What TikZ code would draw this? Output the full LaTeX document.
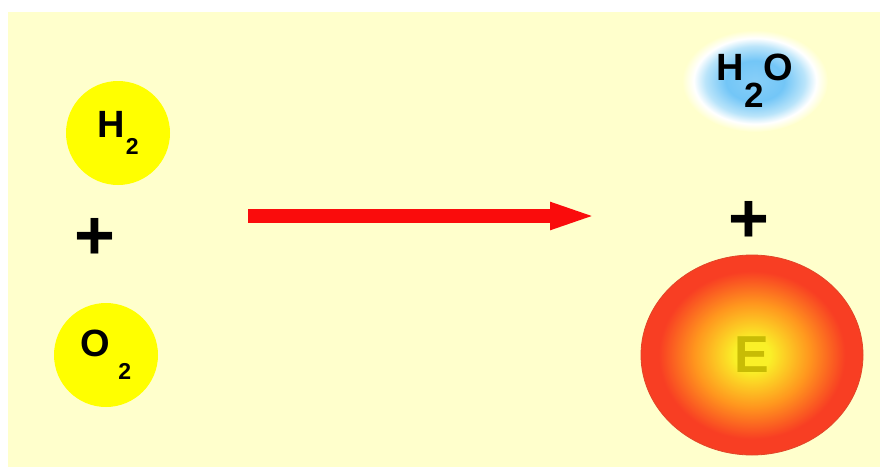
\documentclass[tikz,border=0pt]{standalone}
\usepackage{fontspec}
\setmainfont{Liberation Sans}
\usetikzlibrary{arrows.meta,shapes.geometric}

\definecolor{paper}{RGB}{255,255,204}
\definecolor{atomyellow}{RGB}{255,255,0}
\definecolor{arrowred}{RGB}{250,12,12}
\definecolor{waterblue}{RGB}{115,198,247}
\definecolor{waterpale}{RGB}{185,228,250}
\definecolor{fireyellow}{RGB}{250,240,40}
\definecolor{fireorange}{RGB}{255,150,30}
\definecolor{firered}{RGB}{248,62,35}
\definecolor{firerim}{RGB}{225,70,40}
\definecolor{energyolive}{RGB}{200,188,5}

\pgfdeclareradialshading{waterglow}{\pgfpointorigin}{color(0bp)=(waterblue!85!white); color(10bp)=(waterblue); color(17bp)=(waterpale); color(21bp)=(white); color(25bp)=(paper); color(50bp)=(paper)}
\pgfdeclareradialshading{fireglow}{\pgfpointorigin}{color(0bp)=(fireyellow); color(4bp)=(fireyellow); color(13bp)=(fireorange); color(21bp)=(firered); color(25bp)=(firered); color(50bp)=(firered)}

% lowered index figure: drop, size, text
\newcommand{\chemlow}[3]{\raisebox{-#1}{\fontsize{#2}{#2}\selectfont #3}}

\begin{document}
\begin{tikzpicture}[x=1pt,y=-1pt,
    atom/.style={circle,fill=atomyellow,minimum size=104pt,inner sep=0pt,font=\fontsize{38}{38}\selectfont\bfseries},
    plusmark/.style={inner sep=0pt,font=\fontsize{70}{70}\selectfont\bfseries}]
  \useasboundingbox (0,0) rectangle (882,466);
  \fill[white] (0,0) rectangle (882,470);
  \fill[paper] (8,12) rectangle (880,470);

  % left side
  \node[atom] (hydrogen) at (118,133) {H\hspace{1pt}\chemlow{17pt}{23}{2}};
  \node[plusmark] (plusleft) at (95,239) {+};
  \node[atom] (oxygen) at (106,355) {O\hspace{8pt}\chemlow{23pt}{23}{2}};

  % reaction arrow
  \coordinate (arrowtail) at (248,216);
  \coordinate (arrowtip) at (598,216);
  \draw[arrowred,line width=14pt,-{Triangle[length=48pt,width=24pt]}] (arrowtail) -- (arrowtip);

  % right side
  \node[ellipse,minimum width=146pt,minimum height=102pt,inner sep=0pt,shading=waterglow,
        font=\fontsize{38}{38}\selectfont\bfseries] (water) at (755,81) {H\chemlow{27pt}{35}{2}O};
  \node[plusmark] (plusright) at (749,222) {+};
  \node[ellipse,minimum width=222pt,minimum height=200pt,inner sep=0pt,shading=fireglow,
        draw=firerim,line width=0.8pt,text=energyolive,
        font=\fontsize{52}{52}\selectfont\bfseries] (energy) at (752,355) {E};
\end{tikzpicture}
\end{document}
